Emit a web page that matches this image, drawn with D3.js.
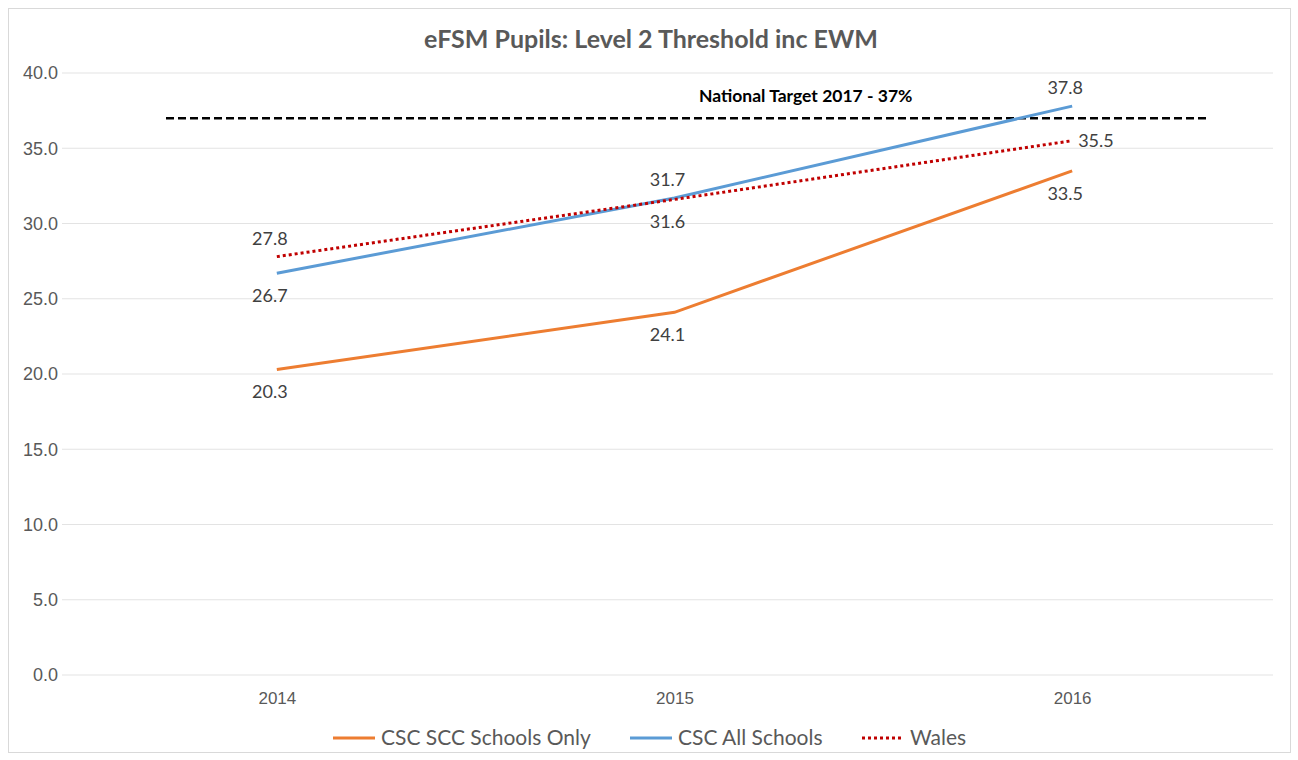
<!DOCTYPE html>
<html>
<head>
<meta charset="utf-8">
<script src="https://cdn.jsdelivr.net/npm/d3@7"></script>
<style>
  body { margin: 0; background: #fff; }
  svg { display: block; font-family: Lato, "Open Sans", sans-serif; }
</style>
</head>
<body>
<div id="chart"></div>
<script>
const years = ['2014', '2015', '2016'];
const sccOnly = [20.3, 24.1, 33.5];
const allSchools = [26.7, 31.7, 37.8];
const wales = [27.8, 31.6, 35.5];
const target = 37;
const yTicks = [0, 5, 10, 15, 20, 25, 30, 35, 40];

const W = 1298, H = 760;
const plot = { left: 62, right: 1273, top: 73, bottom: 675 };

const svg = d3.select('#chart').append('svg')
    .attr('width', W)
    .attr('height', H);

svg.append('rect')
    .attr('x', 8.5).attr('y', 8.5)
    .attr('width', 1282).attr('height', 744)
    .attr('fill', '#fff')
    .attr('stroke', '#d9d9d9');

const x = d3.scalePoint()
    .domain(years)
    .range([78, 1271])
    .padding(0.5);

const y = d3.scaleLinear()
    .domain([0, 40])
    .range([plot.bottom, plot.top]);

// gridlines
svg.append('g')
    .selectAll('line')
    .data(yTicks)
    .join('line')
    .attr('x1', plot.left)
    .attr('x2', plot.right)
    .attr('y1', d => y(d))
    .attr('y2', d => y(d))
    .attr('stroke', '#e3e3e3')
    .attr('stroke-width', 1);

// y axis labels
const yAxis = svg.append('g')
    .attr('transform', `translate(${plot.left - 1},0)`)
    .call(d3.axisLeft(y).tickValues(yTicks).tickFormat(d3.format('.1f')).tickSize(0));
yAxis.select('.domain').remove();
yAxis.selectAll('text')
    .attr('fill', '#595959')
    .style('font-size', '18px');

// x axis labels
const xAxis = svg.append('g')
    .attr('transform', `translate(0,${plot.bottom + 14})`)
    .call(d3.axisBottom(x).tickSize(0));
xAxis.select('.domain').remove();
xAxis.selectAll('text')
    .attr('fill', '#595959')
    .style('font-size', '17px');

// title
svg.append('text')
    .attr('x', 651)
    .attr('y', 48)
    .attr('text-anchor', 'middle')
    .attr('fill', '#595959')
    .style('font-size', '25px')
    .style('font-weight', 'bold')
    .text('eFSM Pupils: Level 2 Threshold inc EWM');

// national target
svg.append('line')
    .attr('x1', 166)
    .attr('x2', 1208)
    .attr('y1', y(target))
    .attr('y2', y(target))
    .attr('stroke', '#000')
    .attr('stroke-width', 2.5)
    .attr('stroke-dasharray', '8,4');

svg.append('text')
    .attr('x', 699)
    .attr('y', 102)
    .attr('fill', '#000')
    .style('font-size', '17.5px')
    .style('font-weight', 'bold')
    .text('National Target 2017 - 37%');

const series = [
    { name: 'CSC SCC Schools Only', values: sccOnly, color: '#ED7D31', dash: null, labelPos: ['below', 'below', 'below'] },
    { name: 'CSC All Schools', values: allSchools, color: '#5B9BD5', dash: null, labelPos: ['below', 'above', 'above'] },
    { name: 'Wales', values: wales, color: '#C00000', dash: '3,3', labelPos: ['above', 'below', 'right'] }
];

const line = d3.line()
    .x((d, i) => x(years[i]))
    .y(d => y(d));

series.forEach(s => {
    svg.append('path')
        .datum(s.values)
        .attr('d', line)
        .attr('fill', 'none')
        .attr('stroke', s.color)
        .attr('stroke-width', 3)
        .attr('stroke-dasharray', s.dash);
});

series.forEach(s => {
    svg.append('g')
        .selectAll('text')
        .data(s.values)
        .join('text')
        .attr('x', (d, i) => s.labelPos[i] === 'right' ? x(years[i]) + 6 : x(years[i]) - 7)
        .attr('y', (d, i) => {
            const p = s.labelPos[i];
            if (p === 'above') return y(d) - 12;
            if (p === 'below') return y(d) + 29;
            return y(d) + 6;
        })
        .attr('text-anchor', (d, i) => s.labelPos[i] === 'right' ? 'start' : 'middle')
        .attr('fill', '#404040')
        .style('font-size', '18px')
        .text(d => d3.format('.1f')(d));
});

// legend
const legendX = [333, 630, 862];
const legend = svg.append('g');
series.forEach((s, i) => {
    const g = legend.append('g').attr('transform', `translate(${legendX[i]},738)`);
    g.append('line')
        .attr('x1', 0).attr('x2', 42)
        .attr('y1', 0).attr('y2', 0)
        .attr('stroke', s.color)
        .attr('stroke-width', 3)
        .attr('stroke-dasharray', s.dash);
    g.append('text')
        .attr('x', 48)
        .attr('y', 7)
        .attr('fill', '#595959')
        .style('font-size', '21px')
        .text(s.name);
});
</script>
</body>
</html>
